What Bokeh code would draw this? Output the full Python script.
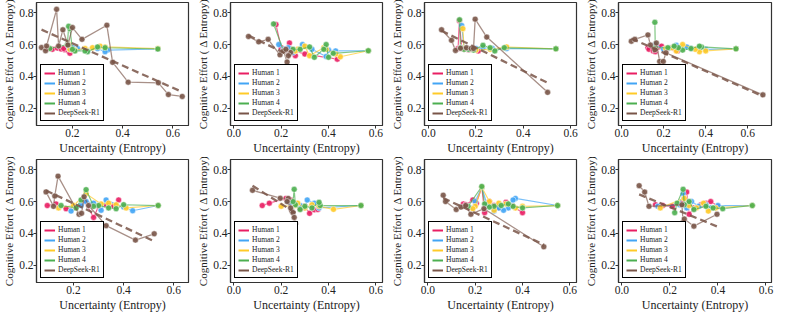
import numpy as np
from bokeh.plotting import figure
from bokeh.layouts import gridplot
from bokeh.models import Range1d, FixedTicker, NumeralTickFormatter, Legend, LegendItem
from bokeh.embed import file_html
from bokeh.resources import INLINE

SERIES = ["Human 1", "Human 2", "Human 3", "Human 4", "DeepSeek-R1"]
COLORS = ["#e91e63", "#42a5f5", "#ffca28", "#4caf50", "#795548"]
X_TICKS = [0.0, 0.2, 0.4, 0.6]
Y_TICKS = [0.2, 0.4, 0.6, 0.8]
X_LABEL = "Uncertainty (Entropy)"
Y_LABEL = "Cognitive Effort ( Δ Entropy)"

# ---------- Panel 1 ----------
p1_h1 = ([0.10, 0.12, 0.14, 0.155, 0.17, 0.185, 0.19, 0.20, 0.18, 0.165],
         [0.575, 0.57, 0.578, 0.572, 0.568, 0.56, 0.545, 0.565, 0.58, 0.575])
p1_h2 = ([0.54, 0.34, 0.33, 0.30, 0.26, 0.22, 0.20, 0.19, 0.185],
         [0.572, 0.565, 0.555, 0.575, 0.56, 0.575, 0.58, 0.57, 0.59])
p1_h3 = ([0.54, 0.33, 0.31, 0.28, 0.25, 0.21, 0.19, 0.185],
         [0.575, 0.585, 0.59, 0.58, 0.575, 0.565, 0.57, 0.60])
p1_h4 = ([0.54, 0.33, 0.30, 0.26, 0.25, 0.21, 0.20, 0.19, 0.185, 0.18, 0.11],
         [0.572, 0.58, 0.585, 0.555, 0.56, 0.56, 0.57, 0.70, 0.715, 0.60, 0.575])
p1_ds = ([0.077, 0.093, 0.097, 0.137, 0.145, 0.162, 0.182, 0.20, 0.238, 0.337, 0.36, 0.422, 0.542, 0.582, 0.637],
         [0.581, 0.561, 0.591, 0.822, 0.591, 0.693, 0.597, 0.707, 0.633, 0.722, 0.488, 0.363, 0.359, 0.285, 0.273])

# ---------- Panel 2 ----------
p2_h1 = ([0.178, 0.20, 0.215, 0.235, 0.25, 0.26, 0.24, 0.30, 0.437],
         [0.726, 0.58, 0.56, 0.61, 0.545, 0.53, 0.57, 0.54, 0.508])
p2_h2 = ([0.568, 0.43, 0.40, 0.39, 0.33, 0.29, 0.25, 0.23, 0.21, 0.19],
         [0.561, 0.56, 0.565, 0.525, 0.57, 0.60, 0.55, 0.58, 0.57, 0.60])
p2_h3 = ([0.568, 0.45, 0.43, 0.39, 0.38, 0.32, 0.30, 0.27, 0.26],
         [0.561, 0.523, 0.54, 0.57, 0.58, 0.53, 0.59, 0.57, 0.56])
p2_h4 = ([0.568, 0.42, 0.40, 0.39, 0.38, 0.34, 0.32, 0.28, 0.25, 0.21, 0.168],
         [0.561, 0.545, 0.52, 0.60, 0.57, 0.52, 0.585, 0.57, 0.57, 0.56, 0.73])
p2_ds = ([0.062, 0.105, 0.145, 0.195, 0.21, 0.225, 0.24, 0.22, 0.23],
         [0.651, 0.617, 0.633, 0.535, 0.56, 0.49, 0.55, 0.57, 0.53])

# ---------- Panel 3 ----------
p3_h1 = ([0.125, 0.13, 0.14, 0.15, 0.17, 0.19, 0.21],
         [0.575, 0.75, 0.58, 0.57, 0.565, 0.575, 0.56])
p3_h2 = ([0.538, 0.33, 0.27, 0.23, 0.20, 0.17, 0.15, 0.14],
         [0.573, 0.575, 0.575, 0.58, 0.575, 0.57, 0.58, 0.72])
p3_h3 = ([0.538, 0.33, 0.26, 0.20, 0.18, 0.15, 0.145],
         [0.573, 0.585, 0.57, 0.565, 0.57, 0.575, 0.70])
p3_h4 = ([0.538, 0.32, 0.28, 0.26, 0.23, 0.19, 0.17, 0.15, 0.135, 0.131],
         [0.573, 0.58, 0.56, 0.58, 0.595, 0.565, 0.57, 0.57, 0.58, 0.756])
p3_ds = ([0.055, 0.097, 0.114, 0.135, 0.16, 0.18, 0.19, 0.197, 0.246, 0.503],
         [0.693, 0.627, 0.563, 0.577, 0.58, 0.575, 0.575, 0.76, 0.647, 0.299])

# ---------- Panel 4 ----------
p4_h1 = ([0.125, 0.13, 0.15, 0.16, 0.175, 0.19, 0.22, 0.25, 0.265],
         [0.58, 0.57, 0.56, 0.555, 0.585, 0.59, 0.575, 0.575, 0.56])
p4_h2 = ([0.544, 0.40, 0.37, 0.33, 0.31, 0.26, 0.23, 0.20, 0.16],
         [0.573, 0.57, 0.58, 0.575, 0.585, 0.595, 0.58, 0.57, 0.60])
p4_h3 = ([0.544, 0.40, 0.37, 0.35, 0.29, 0.26, 0.24, 0.21],
         [0.573, 0.56, 0.555, 0.57, 0.60, 0.56, 0.58, 0.575])
p4_h4 = ([0.544, 0.38, 0.37, 0.33, 0.29, 0.27, 0.25, 0.22, 0.16, 0.158],
         [0.573, 0.585, 0.59, 0.575, 0.565, 0.58, 0.59, 0.58, 0.58, 0.74])
p4_ds = ([0.046, 0.063, 0.125, 0.137, 0.158, 0.165, 0.181, 0.198, 0.211, 0.672],
         [0.621, 0.633, 0.661, 0.597, 0.567, 0.61, 0.494, 0.494, 0.548, 0.283])

# ---------- Panel 5 ----------
p5_h1 = ([0.095, 0.13, 0.17, 0.21, 0.245, 0.28, 0.30, 0.33, 0.36, 0.38],
         [0.575, 0.585, 0.555, 0.56, 0.60, 0.50, 0.57, 0.58, 0.57, 0.61])
p5_h2 = ([0.538, 0.436, 0.40, 0.33, 0.31, 0.28, 0.25, 0.23, 0.19],
         [0.575, 0.542, 0.565, 0.61, 0.545, 0.59, 0.60, 0.575, 0.54])
p5_h3 = ([0.538, 0.41, 0.37, 0.34, 0.31, 0.25, 0.20, 0.14],
         [0.575, 0.56, 0.58, 0.59, 0.585, 0.65, 0.575, 0.56])
p5_h4 = ([0.538, 0.40, 0.37, 0.34, 0.30, 0.28, 0.25, 0.23, 0.21, 0.15],
         [0.575, 0.58, 0.555, 0.56, 0.575, 0.57, 0.675, 0.61, 0.56, 0.575])
p5_ds = ([0.09, 0.12, 0.125, 0.138, 0.222, 0.232, 0.242, 0.26, 0.33, 0.447, 0.522],
         [0.661, 0.57, 0.635, 0.76, 0.52, 0.526, 0.63, 0.575, 0.448, 0.357, 0.397])

# ---------- Panel 6 ----------
p6_h1 = ([0.12, 0.15, 0.22, 0.24, 0.26, 0.28, 0.30, 0.32, 0.34, 0.355],
         [0.575, 0.59, 0.62, 0.61, 0.59, 0.555, 0.57, 0.526, 0.548, 0.55])
p6_h2 = ([0.537, 0.36, 0.34, 0.31, 0.30, 0.28, 0.26, 0.24, 0.23],
         [0.575, 0.56, 0.59, 0.61, 0.56, 0.575, 0.58, 0.59, 0.60])
p6_h3 = ([0.537, 0.421, 0.36, 0.33, 0.30, 0.27, 0.26, 0.20],
         [0.575, 0.551, 0.57, 0.58, 0.56, 0.59, 0.575, 0.57])
p6_h4 = ([0.537, 0.365, 0.36, 0.33, 0.30, 0.28, 0.26, 0.255, 0.25],
         [0.575, 0.575, 0.595, 0.56, 0.57, 0.55, 0.58, 0.677, 0.60])
p6_ds = ([0.079, 0.196, 0.23, 0.245, 0.25, 0.255, 0.26, 0.24, 0.225],
         [0.671, 0.621, 0.62, 0.54, 0.53, 0.50, 0.46, 0.56, 0.60])

# ---------- Panel 7 ----------
p7_h1 = ([0.15, 0.16, 0.19, 0.205, 0.228, 0.24, 0.26, 0.28, 0.30, 0.33, 0.36, 0.40],
         [0.585, 0.58, 0.61, 0.59, 0.69, 0.53, 0.60, 0.575, 0.56, 0.595, 0.57, 0.53])
p7_h2 = ([0.548, 0.37, 0.36, 0.34, 0.32, 0.30, 0.28, 0.25, 0.228, 0.20, 0.19],
         [0.575, 0.62, 0.61, 0.56, 0.545, 0.56, 0.54, 0.58, 0.69, 0.60, 0.56])
p7_h3 = ([0.548, 0.40, 0.37, 0.33, 0.30, 0.28, 0.26, 0.228, 0.20, 0.19],
         [0.575, 0.57, 0.56, 0.585, 0.59, 0.545, 0.60, 0.69, 0.57, 0.555])
p7_h4 = ([0.548, 0.40, 0.36, 0.34, 0.31, 0.28, 0.26, 0.24, 0.228, 0.17],
         [0.575, 0.56, 0.57, 0.585, 0.575, 0.57, 0.565, 0.585, 0.695, 0.57])
p7_ds = ([0.065, 0.075, 0.12, 0.14, 0.16, 0.182, 0.237, 0.49],
         [0.64, 0.60, 0.55, 0.565, 0.575, 0.52, 0.555, 0.315])

# ---------- Panel 8 ----------
p8_h1 = ([0.14, 0.17, 0.21, 0.25, 0.27, 0.28, 0.30, 0.33, 0.35, 0.37, 0.40],
         [0.58, 0.575, 0.57, 0.59, 0.66, 0.52, 0.56, 0.58, 0.59, 0.60, 0.57])
p8_h2 = ([0.543, 0.40, 0.37, 0.35, 0.32, 0.29, 0.27, 0.255, 0.24, 0.15],
         [0.575, 0.575, 0.56, 0.58, 0.57, 0.60, 0.56, 0.65, 0.58, 0.57])
p8_h3 = ([0.543, 0.39, 0.36, 0.34, 0.31, 0.28, 0.26, 0.16],
         [0.575, 0.56, 0.54, 0.59, 0.56, 0.575, 0.62, 0.56])
p8_h4 = ([0.543, 0.42, 0.38, 0.35, 0.30, 0.28, 0.26, 0.255, 0.23, 0.22],
         [0.575, 0.555, 0.56, 0.57, 0.55, 0.60, 0.58, 0.677, 0.59, 0.53])
p8_ds = ([0.072, 0.095, 0.113, 0.25, 0.255, 0.26, 0.30, 0.396],
         [0.70, 0.66, 0.57, 0.58, 0.47, 0.49, 0.445, 0.52])

PANELS = [
    [p1_h1, p1_h2, p1_h3, p1_h4, p1_ds],
    [p2_h1, p2_h2, p2_h3, p2_h4, p2_ds],
    [p3_h1, p3_h2, p3_h3, p3_h4, p3_ds],
    [p4_h1, p4_h2, p4_h3, p4_h4, p4_ds],
    [p5_h1, p5_h2, p5_h3, p5_h4, p5_ds],
    [p6_h1, p6_h2, p6_h3, p6_h4, p6_ds],
    [p7_h1, p7_h2, p7_h3, p7_h4, p7_ds],
    [p8_h1, p8_h2, p8_h3, p8_h4, p8_ds],
]
X_LIMS = [(0.057, 0.662), (-0.014, 0.628), (-0.017, 0.625), (-0.015, 0.713),
          (0.052, 0.659), (-0.014, 0.628), (-0.014, 0.628), (-0.014, 0.623)]
Y_LIM = (0.09, 0.865)

FONT = "Liberation Serif"
WIDTHS = [194, 194, 194, 195]
HEIGHT = 157


def make_panel(i):
    series = PANELS[i]
    p = figure(width=WIDTHS[i % 4], height=HEIGHT, output_backend="svg",
               toolbar_location=None,
               x_range=Range1d(*X_LIMS[i]), y_range=Range1d(*Y_LIM),
               min_border_left=0, min_border_right=6,
               min_border_top=2, min_border_bottom=0)
    p.grid.visible = False
    p.outline_line_color = "#333333"
    p.outline_line_width = 1.2
    p.outline_line_alpha = 1.0
    p.background_fill_color = "white"

    p.xaxis.ticker = FixedTicker(ticks=X_TICKS)
    p.yaxis.ticker = FixedTicker(ticks=Y_TICKS)
    p.xaxis.formatter = NumeralTickFormatter(format="0.0")
    p.yaxis.formatter = NumeralTickFormatter(format="0.0")
    p.xaxis.axis_label = X_LABEL
    p.yaxis.axis_label = Y_LABEL
    for ax in (p.xaxis[0], p.yaxis[0]):
        ax.axis_label_text_font = FONT
        ax.axis_label_text_font_style = "normal"
        ax.axis_label_text_color = "#222222"
        ax.axis_label_standoff = 1
        ax.major_label_text_font = FONT
        ax.major_label_text_font_size = "11.5px"
        ax.major_label_text_color = "#222222"
        ax.major_label_standoff = 0
        ax.major_tick_out = 3
        ax.major_tick_in = 0
        ax.minor_tick_out = 0
        ax.minor_tick_in = 0
        ax.axis_line_color = "#333333"
        ax.axis_line_width = 1.2
        ax.major_tick_line_color = "#333333"
    p.xaxis.axis_label_text_font_size = "12px"
    p.yaxis.axis_label_text_font_size = "11px"

    items = []
    for k, (xs, ys) in enumerate(series):
        c = COLORS[k]
        is_ds = (k == 4)
        p.line(xs, ys, line_color=c, line_width=1.3 if is_ds else 1.2,
               line_alpha=0.65 if is_ds else 0.7)
        p.scatter(xs, ys, size=6, fill_color=c, fill_alpha=0.9,
                  line_color="white", line_width=0.5)
        # legend swatch: a placeholder renderer holding no real point
        sw = p.line([np.nan], [np.nan], line_color=c, line_width=2)
        items.append(LegendItem(label=SERIES[k], renderers=[sw]))

    # regression (trend) line for DeepSeek-R1
    dx, dy = series[4]
    slope, intercept = np.polyfit(dx, dy, 1)
    fx = np.array([min(dx), max(dx)])
    p.line(fx, slope * fx + intercept, line_color=COLORS[4], line_width=2.3,
           line_dash="7 4", line_alpha=0.85)

    legend = Legend(items=items, location=(4, 4),
                    border_line_color="black", border_line_width=1.2,
                    border_line_alpha=1.0,
                    background_fill_color="white", background_fill_alpha=1.0,
                    label_text_font=FONT, label_text_font_size="7.5px",
                    label_text_color="#222222", label_text_line_height=1.0,
                    glyph_width=11, glyph_height=6, label_height=6,
                    label_standoff=3, spacing=1, padding=3, margin=0)
    p.add_layout(legend)
    return p


figs = [make_panel(i) for i in range(8)]
grid = gridplot([figs[:4], figs[4:]], toolbar_location=None)
open("out.html", "w").write(file_html(grid, INLINE))
